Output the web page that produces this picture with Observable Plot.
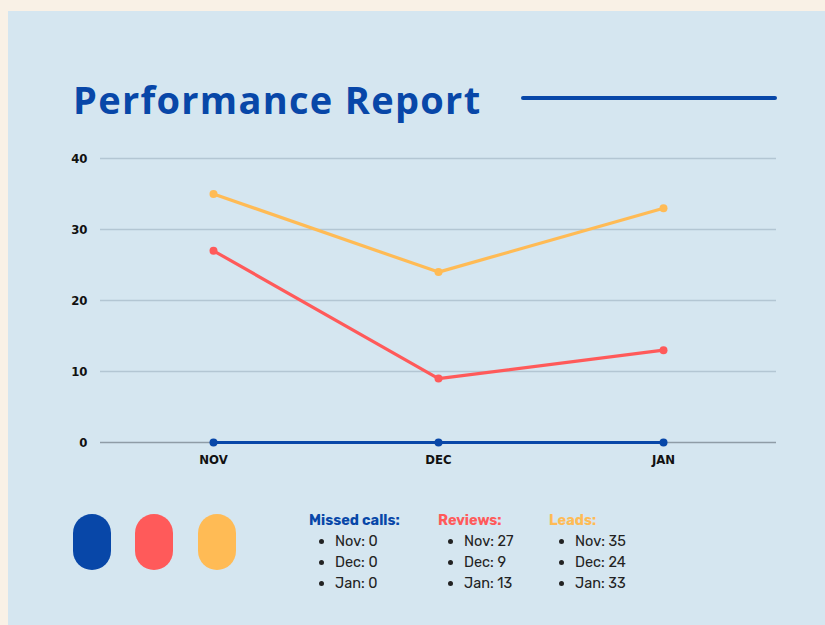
<!DOCTYPE html>
<html>
<head>
<meta charset="utf-8">
<script src="https://cdn.jsdelivr.net/npm/d3@7"></script>
<script src="https://cdn.jsdelivr.net/npm/@observablehq/plot@0.6"></script>
<style>
  html, body { margin: 0; padding: 0; }
  body { width: 825px; height: 625px; background: #f9f1e6; position: relative; overflow: hidden; }
  #panel { position: absolute; left: 8px; top: 11px; width: 817px; height: 614px; background: #d5e6f0; }
  #title { position: absolute; left: 73px; top: 73px; font-family: "Open Sans", sans-serif; font-weight: 700;
           font-size: 38px; letter-spacing: 1.3px; color: #0847a8; line-height: 52px; white-space: nowrap; }
  #titleRule { position: absolute; left: 521px; top: 96px; width: 256px; height: 4px; border-radius: 2px; background: #0847a8; }
  #chart { position: absolute; left: 0; top: 140px; }
  #chart svg text { font-stretch: condensed; }
  .pill { position: absolute; top: 514px; width: 38px; height: 56px; border-radius: 19px; }
  .legend { position: absolute; top: 511px; font-family: Rubik, Inter, "Noto Sans", sans-serif; }
  .legend .head { font-weight: 700; font-size: 14.5px; line-height: 18px; }
  .legend ul { margin: 2px 0 0 0; padding: 0 0 0 26px; font-size: 14.5px; line-height: 21px; color: #222; }
</style>
</head>
<body>
<div id="panel"></div>
<div id="title">Performance Report</div>
<div id="titleRule"></div>
<div id="chart"></div>
<div id="legendArea"></div>
<script>
const months = ["NOV", "DEC", "JAN"];
const monthNames = ["Nov", "Dec", "Jan"];
const seriesNames = ["Missed calls", "Reviews", "Leads"];
const seriesColors = ["#0847a8", "#ff5a5a", "#ffbb55"];
const missedCalls = [0, 0, 0];
const reviews = [27, 9, 13];
const leads = [35, 24, 33];
const yTicks = [0, 10, 20, 30, 40];

const seriesValues = [missedCalls, reviews, leads];
const data = [];
seriesValues.forEach((vals, s) => vals.forEach((v, i) => data.push({series: seriesNames[s], month: months[i], value: v})));
const drawOrder = ["Leads", "Reviews", "Missed calls"];

const plot = Plot.plot({
  width: 825,
  height: 340,
  marginLeft: 100,
  marginRight: 49,
  marginTop: 18,
  marginBottom: 38,
  style: { background: "transparent", fontFamily: "'DejaVu Sans Condensed', 'DejaVu Sans', sans-serif", fontSize: "13px", color: "#111" },
  x: { type: "point", domain: months, padding: 0.5, label: null, tickSize: 0, tickPadding: 12 },
  y: { domain: [0, 40], ticks: yTicks, label: null, tickSize: 0, tickPadding: 13 },
  color: { domain: seriesNames, range: seriesColors },
  marks: [
    Plot.ruleY(yTicks.filter(d => d !== 0), { stroke: "#b3c6d3", strokeWidth: 1.3 }),
    Plot.ruleY([0], { stroke: "#8f9ca6", strokeWidth: 1.6 }),
    Plot.axisY({ ticks: yTicks, tickSize: 0, tickPadding: 13, fontWeight: "bold", label: null }),
    Plot.axisX({ tickSize: 0, tickPadding: 12, fontWeight: "bold", label: null }),
    ...drawOrder.map(name => Plot.line(data.filter(d => d.series === name), { x: "month", y: "value", stroke: seriesColors[seriesNames.indexOf(name)], strokeWidth: 3.2 })),
    ...drawOrder.map(name => Plot.dot(data.filter(d => d.series === name), { x: "month", y: "value", fill: seriesColors[seriesNames.indexOf(name)], r: 4 }))
  ]
});
document.getElementById("chart").appendChild(plot);

const area = document.getElementById("legendArea");
const pillX = [73, 135, 198];
const textX = [309, 438, 549];
seriesNames.forEach((name, s) => {
  const p = document.createElement("div");
  p.className = "pill";
  p.style.left = pillX[s] + "px";
  p.style.background = seriesColors[s];
  area.appendChild(p);
  const lg = document.createElement("div");
  lg.className = "legend";
  lg.style.left = textX[s] + "px";
  const head = document.createElement("div");
  head.className = "head";
  head.style.color = seriesColors[s];
  head.textContent = name + ":";
  lg.appendChild(head);
  const ul = document.createElement("ul");
  seriesValues[s].forEach((v, i) => {
    const li = document.createElement("li");
    li.textContent = monthNames[i] + ": " + v;
    ul.appendChild(li);
  });
  lg.appendChild(ul);
  area.appendChild(lg);
});
</script>
</body>
</html>
